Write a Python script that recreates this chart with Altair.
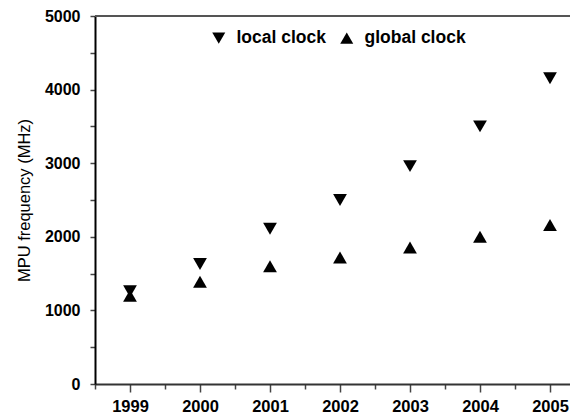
import altair as alt
import pandas as pd

years = [1999, 2000, 2001, 2002, 2003, 2004, 2005]
local_clock = [1260, 1630, 2110, 2500, 2960, 3500, 4155]
global_clock = [1200, 1390, 1600, 1720, 1855, 2000, 2160]
series_names = ["local clock", "global clock"]
series_shapes = ["triangle-down", "triangle-up"]
y_tick_values = [0, 500, 1000, 1500, 2000, 2500, 3000, 3500, 4000, 4500, 5000]
x_center_ticks = years
x_boundary_ticks = [1998.5, 1999.5, 2000.5, 2001.5, 2002.5, 2003.5, 2004.5]

rows = []
for y, v in zip(years, local_clock):
    rows.append({"year": y, "freq": v, "series": series_names[0]})
for y, v in zip(years, global_clock):
    rows.append({"year": y, "freq": v, "series": series_names[1]})
df = pd.DataFrame(rows)

W, H = 475, 368
xscale = alt.Scale(domain=[1998.5, 1998.5 + W / 70.0], nice=False, zero=False)
yscale = alt.Scale(domain=[0, 5000], nice=False)

points = alt.Chart(df).mark_point(filled=True, size=190, opacity=1, strokeWidth=0).encode(
    x=alt.X("year:Q", scale=xscale,
            axis=alt.Axis(values=x_center_ticks, format="d", title=None, orient="bottom",
                          tickSize=8, tickColor="#444", tickWidth=1.5,
                          domainColor="#333", domainWidth=2,
                          labelFontSize=16.5, labelFontWeight="bold", labelColor="black",
                          labelPadding=6, grid=False, labelFlush=False)),
    y=alt.Y("freq:Q", scale=yscale,
            axis=alt.Axis(values=y_tick_values, title="MPU frequency (MHz)", orient="left",
                          labelExpr="datum.value % 1000 === 0 ? datum.value : ''",
                          tickSize=5, tickColor="#444", tickWidth=1.5,
                          domainColor="black", domainWidth=2,
                          labelFontSize=16, labelFontWeight="bold", labelColor="black",
                          labelPadding=10, titleFontSize=16.5, titleFontWeight="normal",
                          titleColor="black", titlePadding=12, grid=False)),
    shape=alt.Shape("series:N", scale=alt.Scale(domain=series_names, range=series_shapes),
                    legend=alt.Legend(orient="none", legendX=115, legendY=13, direction="horizontal",
                                      title=None, labelFontSize=17.5, labelFontWeight="bold",
                                      labelColor="black", symbolSize=170,
                                      symbolFillColor="black", symbolStrokeColor="black",
                                      symbolStrokeWidth=0, labelOffset=9, columnPadding=12)),
    color=alt.value("black"),
)

bticks = alt.Chart(df).mark_point(opacity=0).encode(
    x=alt.X("year:Q", scale=xscale,
            axis=alt.Axis(values=x_boundary_ticks, labels=False, title=None, orient="bottom",
                          tickSize=5, tickColor="#444", tickWidth=1.5, domain=False, grid=False)),
)

border = alt.Chart(pd.DataFrame({"k": [0]})).mark_rule(color="#555", strokeWidth=2).encode(
    x=alt.value(0), x2=alt.value(W), y=alt.value(0)
)

chart = alt.layer(border, bticks, points).resolve_axis(x="independent").properties(
    width=W, height=H,
    autosize=alt.AutoSizeParams(type="none"),
    padding={"left": 87, "top": 8, "right": 0, "bottom": 31},
).configure_view(stroke=None).configure(font="Liberation Sans")

chart.save("out.html", embed_options={"renderer": "svg", "actions": False})
